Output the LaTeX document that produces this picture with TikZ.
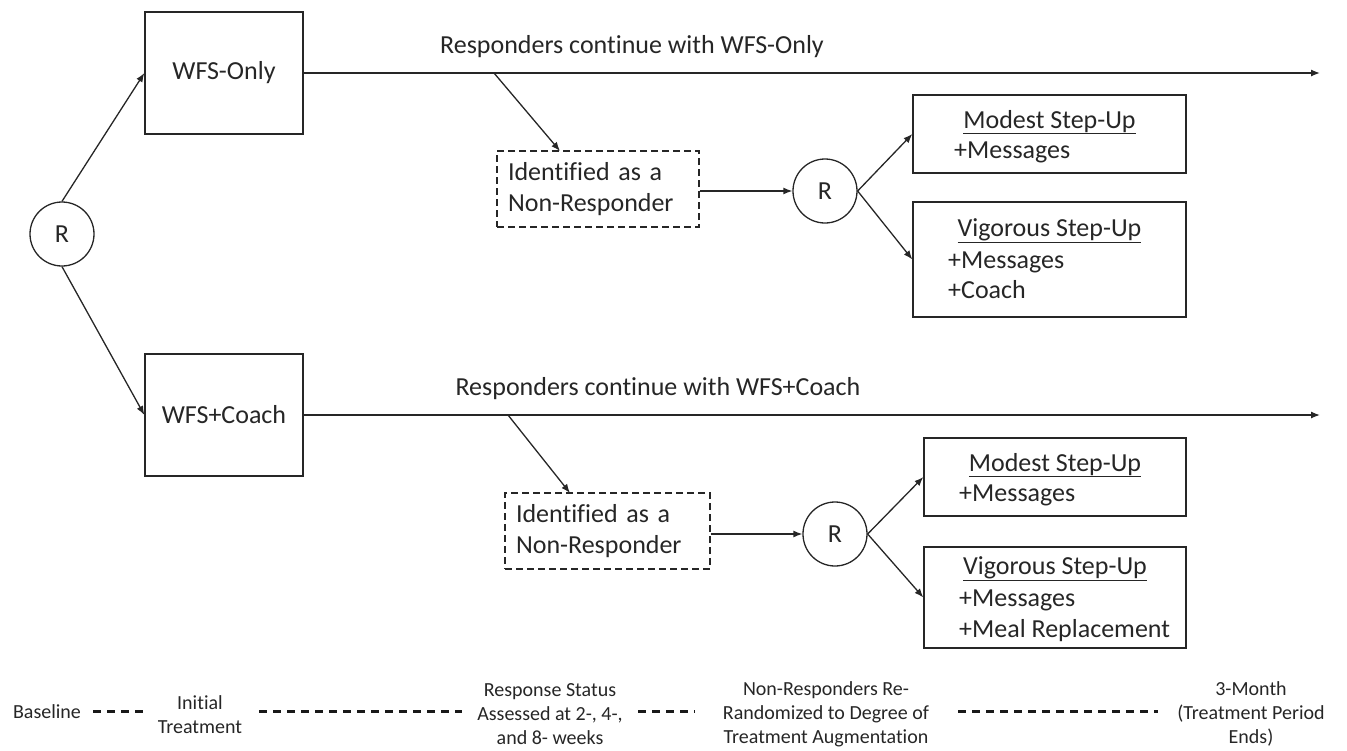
\documentclass[tikz,border=0pt]{standalone}
\usepackage{fontspec}
\setmainfont{Carlito}[Ligatures=NoCommon]
\usetikzlibrary{arrows.meta}
\begin{document}
\begin{tikzpicture}[x=1pt,y=-1pt,
  every node/.style={font=\fontsize{26}{31}\selectfont, text=black!85},
  box/.style={draw=black!85, line width=1.3pt, inner sep=0pt},
  dbox/.style={draw=black!85, line width=1.3pt, dash pattern=on 7pt off 4pt, align=left, inner xsep=11pt, inner ysep=0pt, minimum height=76pt},
  rc/.style={draw=black!85, circle, line width=1.3pt, minimum size=64pt, inner sep=0pt},
  arr/.style={draw=black!85, line width=1.3pt, -{Latex[length=9pt,width=7pt]}},
  txt/.style={inner sep=0pt},
  small/.style={font=\fontsize{20}{24}\selectfont, align=center, inner sep=0pt},
  tl/.style={draw=black!90, line width=3pt, dash pattern=on 8pt off 6pt}]
\useasboundingbox (0,0) rectangle (1347,750);

% initial randomisation
\node[rc] (r1) at (62,234) {R};
\node[box, minimum width=158pt, minimum height=122pt] (wfso) at (224,73) {WFS-Only};
\node[box, minimum width=158pt, minimum height=122pt] (wfsc) at (224,415) {WFS+Coach};
\draw[arr] (r1.north) -- (wfso.west);
\draw[arr] (r1.south) -- (wfsc.west);

% upper branch
\coordinate (e1) at (1320,73);
\draw[arr] (wfso.east) -- (e1);
\node[txt] (lab1) at (632,47) {Responders continue with WFS-Only};
\node[dbox, text width=180pt] (nr1) at (598,189) {Identified as a\\Non-Responder};
\coordinate (d1s) at (494,73);
\coordinate (d1e) at (560,151);
\draw[arr] (d1s) -- (d1e);
\node[rc] (r2) at (825,191) {R};
\draw[arr] (nr1.east |- r2.west) -- (r2.west);

\node[box, minimum width=273pt, minimum height=78pt] (ms1) at (1049.5,134) {};
\node[txt, anchor=base] (ms1t) at (1049.5,128) {\underline{Modest Step-Up}};
\node[txt, anchor=base west] (ms1a) at (954,158) {+Messages};
\node[box, minimum width=273pt, minimum height=115pt] (vs1) at (1049.5,259.5) {};
\node[txt, anchor=base] (vs1t) at (1049.5,236) {\underline{Vigorous Step-Up}};
\node[txt, anchor=base west] (vs1a) at (948,268) {+Messages};
\node[txt, anchor=base west] (vs1b) at (948,298) {+Coach};
\draw[arr] (r2.east) -- (ms1.west);
\draw[arr] (r2.east) -- (vs1.west);

% lower branch
\coordinate (e2) at (1320,415);
\draw[arr] (wfsc.east) -- (e2);
\node[txt] (lab2) at (658,389) {Responders continue with WFS+Coach};
\node[dbox, text width=183pt] (nr2) at (607.5,531) {Identified as a\\Non-Responder};
\coordinate (d2s) at (508,415);
\coordinate (d2e) at (570,493);
\draw[arr] (d2s) -- (d2e);
\node[rc] (r3) at (835,534) {R};
\draw[arr] (nr2.east |- r3.west) -- (r3.west);

\node[box, minimum width=262pt, minimum height=78pt] (ms2) at (1055,477) {};
\node[txt, anchor=base] (ms2t) at (1055,471) {\underline{Modest Step-Up}};
\node[txt, anchor=base west] (ms2a) at (959,501) {+Messages};
\node[box, minimum width=262pt, minimum height=101pt] (vs2) at (1055,597.5) {};
\node[txt, anchor=base] (vs2t) at (1055,574) {\underline{Vigorous Step-Up}};
\node[txt, anchor=base west] (vs2a) at (959,606) {+Messages};
\node[txt, anchor=base west] (vs2b) at (959,637) {+Meal Replacement};
\draw[arr] (r3.east) -- (ms2.west);
\draw[arr] (r3.east) -- (vs2.west);

% timeline
\node[small] (t1) at (47,712) {Baseline};
\node[small] (t2) at (200,715) {Initial\\Treatment};
\node[small] (t3) at (550,714) {Response Status\\Assessed at 2-, 4-,\\and 8- weeks};
\node[small] (t4) at (826,714) {Non-Responders Re-\\Randomized to Degree of\\Treatment Augmentation};
\node[small] (t5) at (1251,714) {3-Month\\(Treatment Period\\Ends)};
\coordinate (a1) at (93,711);  \coordinate (b1) at (144,711);
\coordinate (a2) at (259,711); \coordinate (b2) at (462,711);
\coordinate (a3) at (638,711); \coordinate (b3) at (695,711);
\coordinate (a4) at (958,711); \coordinate (b4) at (1158,711);
\draw[tl] (a1) -- (b1);
\draw[tl] (a2) -- (b2);
\draw[tl] (a3) -- (b3);
\draw[tl] (a4) -- (b4);
\end{tikzpicture}
\end{document}
